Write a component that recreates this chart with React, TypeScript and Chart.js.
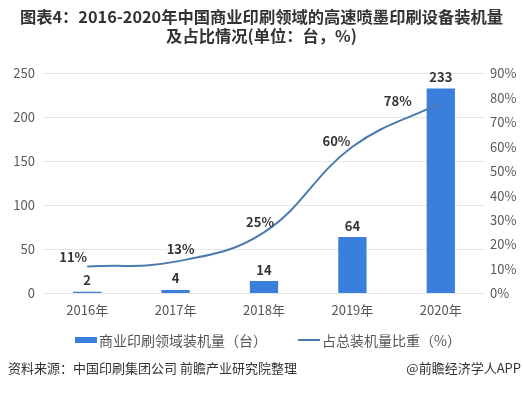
import React, { useEffect, useRef } from "react";
import { Chart, registerables } from "chart.js";

Chart.register(...registerables);

const titleLines = [
  "图表4：2016-2020年中国商业印刷领域的高速喷墨印刷设备装机量",
  "及占比情况(单位：台，%)",
];
const categories = ["2016年", "2017年", "2018年", "2019年", "2020年"];
const installs = [2, 4, 14, 64, 233];
const shares = [11, 13, 25, 60, 78];
const barLegend = "商业印刷领域装机量（台）";
const lineLegend = "占总装机量比重（%）";
const sourceText = "资料来源：中国印刷集团公司 前瞻产业研究院整理";
const brandText = "@前瞻经济学人APP";

const FONT = '"Noto Sans CJK SC", "Noto Sans", sans-serif';
const BAR_COLOR = "#3b7fdc";
const LINE_COLOR = "#4a7bb0";
// label placement offsets (style only)
const lineLabelOffsets: [number, number][] = [
  [-14, -9],
  [5, -13],
  [-4, -10],
  [-16, -6],
  [-43, -2],
];

const labelPlugin = {
  id: "valueLabels",
  afterDatasetsDraw(chart: any) {
    const ctx = chart.ctx;
    ctx.save();
    ctx.font = `bold 13px ${FONT}`;
    ctx.fillStyle = "#333";
    const lineMeta = chart.getDatasetMeta(0);
    const barMeta = chart.getDatasetMeta(1);
    ctx.textAlign = "center";
    ctx.textBaseline = "bottom";
    barMeta.data.forEach((el: any, i: number) => {
      ctx.fillText(String(installs[i]), el.x, el.y - 5);
    });
    ctx.textBaseline = "middle";
    lineMeta.data.forEach((el: any, i: number) => {
      const [dx, dy] = lineLabelOffsets[i];
      ctx.fillText(shares[i] + "%", el.x + dx, el.y + dy);
    });
    ctx.restore();
  },
};

export default function App() {
  const ref = useRef<HTMLCanvasElement>(null);

  useEffect(() => {
    document.body.style.margin = "0";
    const chart = new Chart(ref.current!, {
      type: "bar",
      data: {
        labels: categories,
        datasets: [
          {
            type: "line",
            label: lineLegend,
            data: shares,
            yAxisID: "y1",
            borderColor: LINE_COLOR,
            borderWidth: 2,
            pointRadius: 0,
            tension: 0.4,
            fill: false,
            order: 0,
          } as any,
          {
            type: "bar",
            label: barLegend,
            data: installs,
            yAxisID: "y",
            backgroundColor: BAR_COLOR,
            barPercentage: 0.32,
            categoryPercentage: 1,
            order: 1,
          },
        ],
      },
      options: {
        animation: false,
        responsive: false,
        maintainAspectRatio: false,
        layout: { padding: { top: 0, bottom: 66, left: 0, right: 0 } },
        plugins: {
          tooltip: { enabled: false },
          legend: { display: false },
          title: {
            display: true,
            text: titleLines,
            color: "#333",
            font: { family: FONT, size: 16.3, weight: "bold", lineHeight: 1.12 },
            padding: { top: 8, bottom: 29 },
          },
        },
        scales: {
          x: {
            offset: true,
            grid: { display: false, drawTicks: false },
            border: { display: false },
            ticks: { color: "#555", font: { family: FONT, size: 13 }, padding: 9 },
          },
          y: {
            position: "left",
            min: 0,
            max: 250,
            ticks: {
              stepSize: 50,
              color: "#595959",
              font: { family: FONT, size: 13 },
              padding: 8,
            },
            grid: { color: "#e6e6e6", drawTicks: false },
            border: { display: false },
            afterFit: (s: any) => {
              s.width = 43;
            },
          },
          y1: {
            position: "right",
            min: 0,
            max: 90,
            ticks: {
              stepSize: 10,
              color: "#595959",
              font: { family: FONT, size: 13 },
              padding: 5,
              callback: (v: any) => v + "%",
            },
            grid: { display: false, drawTicks: false },
            border: { display: false },
            afterFit: (s: any) => {
              s.width = 38;
            },
          },
        },
      },
      plugins: [labelPlugin],
    });
    return () => chart.destroy();
  }, []);

  const textStyle: React.CSSProperties = {
    position: "absolute",
    fontFamily: FONT,
    whiteSpace: "nowrap",
  };

  return (
    <div style={{ position: "relative", width: 523, height: 393, background: "#fff", overflow: "hidden" }}>
      <canvas ref={ref} width={523} height={393} style={{ display: "block" }} />
      {/* legend */}
      <div style={{ position: "absolute", left: 75, top: 337, width: 22, height: 6, background: BAR_COLOR }} />
      <div style={{ ...textStyle, left: 99, top: 330, fontSize: 14, lineHeight: "20px", color: "#555" }}>{barLegend}</div>
      <div style={{ position: "absolute", left: 298, top: 339, width: 22, height: 2, background: LINE_COLOR }} />
      <div style={{ ...textStyle, left: 322, top: 330, fontSize: 14, lineHeight: "20px", color: "#555" }}>{lineLegend}</div>
      {/* source */}
      <div style={{ ...textStyle, left: 8, top: 358, fontSize: 13, color: "#333" }}>{sourceText}</div>
      <div style={{ ...textStyle, right: 2, top: 358, fontSize: 13, color: "#333" }}>{brandText}</div>
    </div>
  );
}
